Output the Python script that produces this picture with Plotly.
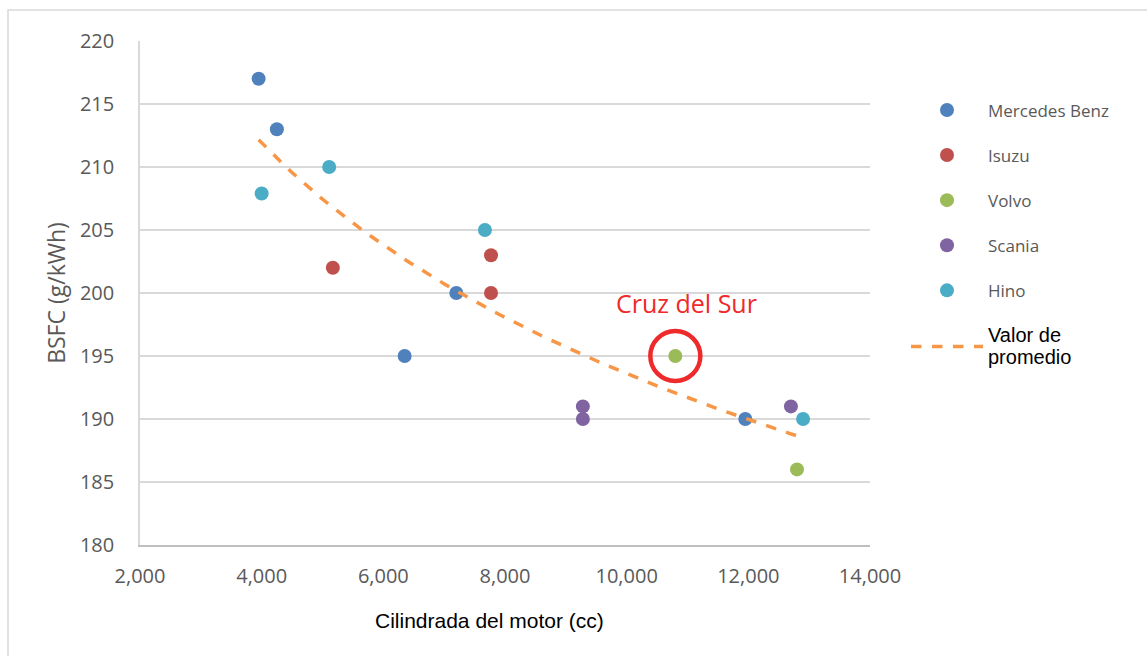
import numpy as np
import plotly.graph_objects as go

# Data (engine displacement cc, BSFC g/kWh)
mb_x = [3950, 4250, 7200, 6350, 11950]
mb_y = [217, 213, 200, 195, 190]
isuzu_x = [5170, 7770, 7770]
isuzu_y = [202, 203, 200]
volvo_x = [10800, 12800]
volvo_y = [195, 186]
scania_x = [9280, 9280, 12700]
scania_y = [191, 190, 191]
hino_x = [4000, 5110, 7670, 12900]
hino_y = [207.9, 210, 205, 190]

series = [
    ("Mercedes Benz", mb_x, mb_y, "#4F81BD"),
    ("Isuzu", isuzu_x, isuzu_y, "#C0504D"),
    ("Volvo", volvo_x, volvo_y, "#9BBB59"),
    ("Scania", scania_x, scania_y, "#8064A2"),
    ("Hino", hino_x, hino_y, "#4BACC6"),
]

highlight_x = [10800]
highlight_y = [195]

fig = go.Figure()
for i, (name, xs, ys, col) in enumerate(series):
    fig.add_trace(go.Scatter(
        x=xs, y=ys, mode="markers", name=name, legendgroup=f"g{i}",
        marker=dict(size=14, color=col, line=dict(width=0)),
    ))

# Logarithmic trendline fitted to all points
all_x = np.array(mb_x + isuzu_x + volvo_x + scania_x + hino_x, dtype=float)
all_y = np.array(mb_y + isuzu_y + volvo_y + scania_y + hino_y, dtype=float)
b, a = np.polyfit(np.log(all_x), all_y, 1)
tx = np.linspace(all_x.min(), all_x.max(), 80)
ty = a + b * np.log(tx)
sp = '<span style="font-family:Liberation Sans, Arial;color:#000000;font-size:20px">'
fig.add_trace(go.Scatter(
    x=tx, y=ty, mode="lines", legendgroup="g5",
    name=sp + 'Valor de</span><br>' + sp + 'promedio</span>',
    line=dict(color="#F79646", width=3.5, dash="dash"),
))

# Highlight circle
fig.add_shape(type="circle", xref="x", yref="y", xsizemode="pixel", ysizemode="pixel",
              xanchor=highlight_x[0], yanchor=highlight_y[0],
              x0=-25, x1=25, y0=-25, y1=25,
              line=dict(color="#EE2A2A", width=4.5))
fig.add_annotation(x=highlight_x[0], y=highlight_y[0], xref="x", yref="y",
                   text="Cruz del Sur", showarrow=False, yshift=53, xshift=11,
                   font=dict(size=25, color="#EE2A2A", family="Open Sans, Noto Sans"))

# X axis title (slightly left of centre, as in the original)
fig.add_annotation(x=(489 - 140) / 730, y=(545 - 620) / 504, xref="paper", yref="paper",
                   xanchor="center", yanchor="middle",
                   text="Cilindrada del motor (cc)", showarrow=False,
                   font=dict(family="Liberation Sans, Arial", size=21, color="#000000"))

# Outer border
fig.add_shape(type="rect", xref="paper", yref="paper",
              x0=(8 - 140) / 730, x1=1.6, y0=-0.4, y1=(545 - 10) / 504,
              line=dict(color="#D9D9D9", width=1.5), fillcolor="rgba(0,0,0,0)", layer="below")

fig.update_layout(
    width=1147, height=656,
    margin=dict(l=140, r=277, t=41, b=111),
    paper_bgcolor="white", plot_bgcolor="white",
    font=dict(family="Open Sans, Noto Sans", color="#595959", size=21),
    legend=dict(x=(906 - 140) / 730, y=0.898, xanchor="left", yanchor="top",
                font=dict(size=17, color="#595959"), tracegroupgap=20, itemwidth=72,
                bgcolor="rgba(0,0,0,0)"),
    xaxis=dict(range=[2000, 14000], tickvals=[2000, 4000, 6000, 8000, 10000, 12000, 14000],
               tickformat=",d", showgrid=False, showline=True, linecolor="#BFBFBF", linewidth=1.5,
               zeroline=False, ticks="", ticklabelstandoff=12, tickfont=dict(size=20)),
    yaxis=dict(range=[180, 220], dtick=5, showgrid=True, gridcolor="#D9D9D9", gridwidth=1.5,
               showline=True, linecolor="#D9D9D9", linewidth=1.5, zeroline=False, ticks="",
               ticklabelstandoff=20, tickfont=dict(size=20),
               title=dict(text="BSFC (g/kWh)", standoff=8,
                          font=dict(size=23, color="#595959"))),
)

fig.write_html("out.html")
